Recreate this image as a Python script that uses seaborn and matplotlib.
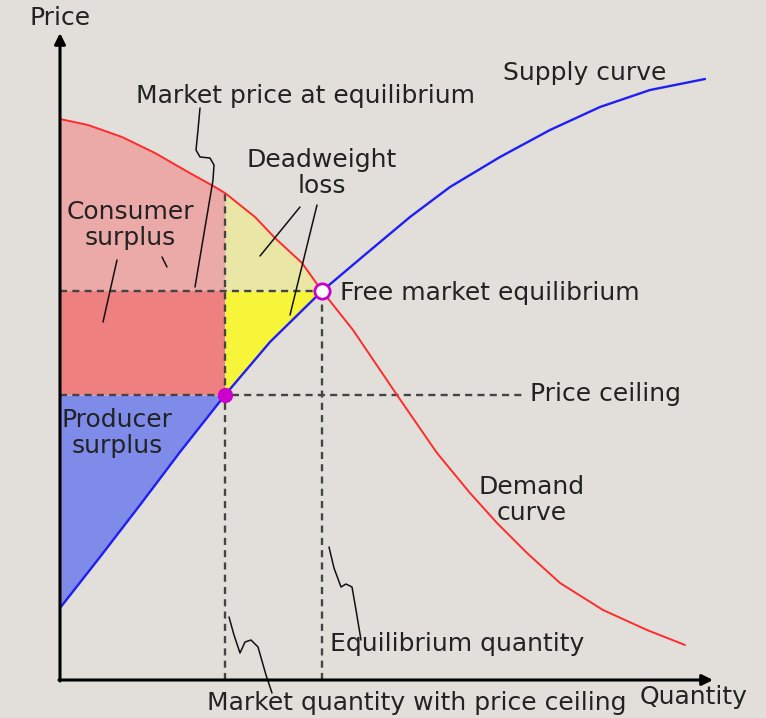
import numpy as np
import pandas as pd
import matplotlib
matplotlib.use("Agg")
import matplotlib.pyplot as plt
import seaborn as sns

# ---------------------------------------------------------------------------
# chart units: quantity to the right, price upward
# ---------------------------------------------------------------------------
demand_q = [0, 28, 62, 95, 128, 155, 165, 195, 215, 242, 262, 293, 337, 377, 410, 437, 467, 500, 543, 587, 625]
demand_p = [561, 555, 543, 527, 508, 493, 487, 463, 442, 417, 389, 350, 285, 227, 187, 157, 127, 97, 70, 50, 35]

supply_q = [0, 40, 80, 120, 165, 210, 262, 307, 350, 390, 440, 490, 540, 590, 645]
supply_p = [72, 123, 175, 228, 285, 338, 389, 427, 463, 493, 523, 550, 573, 590, 601]

eq_q, eq_p = 262, 389        # free market equilibrium
ceil_q, ceil_p = 165, 285    # price ceiling / market quantity with ceiling
ceiling_end = 465

# leader lines from labels
lead_market_price = ([140, 138, 136, 140, 150, 154, 153, 135], [572, 550, 530, 523, 522, 515, 500, 393])
lead_dw1 = ([240, 200], [473, 424])
lead_dw2 = ([257, 230], [475, 365])
lead_cs1 = ([57, 43], [420, 358])
lead_cs2 = ([102, 107], [423, 413])
lead_eq_q = ([269, 274, 281, 286, 292, 296, 301], [133, 112, 93, 96, 93, 70, 40])
lead_mkt_q = ([169, 174, 180, 185, 191, 198, 206, 212], [63, 45, 27, 38, 40, 33, 5, -13])

demand = pd.DataFrame({"q": demand_q, "p": demand_p})
supply = pd.DataFrame({"q": supply_q, "p": supply_p})

sns.set_theme(style="white")
bg = "#e2dfda"
fig = plt.figure(figsize=(7.66, 7.18), dpi=100, facecolor=bg)
ax = fig.add_axes([0, 0, 1, 1])
ax.set_facecolor(bg)
ax.set_xlim(-60, 706)
ax.set_ylim(-38, 680)
ax.axis("off")

dq, dp = np.array(demand_q), np.array(demand_p)
sq, sp = np.array(supply_q), np.array(supply_p)

# surplus areas
m = dq <= ceil_q
ax.fill_between(dq[m], eq_p, dp[m], color="#ebaaa8", lw=0)
m = (dq >= ceil_q) & (dq <= eq_q)
ax.fill_between(dq[m], eq_p, dp[m], color="#e9e6a6", lw=0)
m = (sq >= ceil_q) & (sq <= eq_q)
ax.fill_between(sq[m], sp[m], eq_p, color="#f6f53a", lw=0)
ax.fill_between([0, ceil_q], ceil_p, eq_p, color="#ef8080", lw=0)
m = sq <= ceil_q
ax.fill_between(sq[m], sp[m], ceil_p, color="#7f8be8", lw=0)

# dashed guides
dash = dict(color="#444444", lw=1.7, ls=(0, (3, 2.2)))
ax.plot([0, eq_q], [eq_p, eq_p], **dash)
ax.plot([0, ceiling_end], [ceil_p, ceil_p], **dash)
ax.plot([ceil_q, ceil_q], [0, 488], **dash)
ax.plot([eq_q, eq_q], [0, eq_p], **dash)

# curves
sns.lineplot(data=demand, x="q", y="p", sort=False, color="#ff2b2b", lw=1.4, ax=ax)
sns.lineplot(data=supply, x="q", y="p", sort=False, color="#1f1ff5", lw=1.7, ax=ax)

# leader lines
for xs, ys in [lead_market_price, lead_dw1, lead_dw2, lead_cs1, lead_cs2, lead_eq_q, lead_mkt_q]:
    ax.plot(xs, ys, color="#111111", lw=1.1, solid_capstyle="round")

# axes with arrows
arrow = dict(arrowstyle="-|>", color="black", lw=2.2, mutation_scale=16, shrinkA=0, shrinkB=0)
ax.annotate("", xy=(0, 647), xytext=(0, -1), arrowprops=arrow)
ax.annotate("", xy=(653, 0), xytext=(-1, 0), arrowprops=arrow)

# points
ax.plot(ceil_q, ceil_p, "o", ms=10, color="#cc00cc", mec="#cc00cc", zorder=5)
ax.plot(eq_q, eq_p, "o", ms=11, mfc="white", mec="#cc00cc", mew=2, zorder=5)

# texts
fs = 18
tc = "#222222"
ax.text(0, 662, "Price", ha="center", va="center", fontsize=fs, color=tc)
ax.text(525, 607, "Supply curve", ha="center", va="center", fontsize=fs, color=tc)
ax.text(245, 584, "Market price at equilibrium", ha="center", va="center", fontsize=fs, color=tc)
ax.text(262, 507, "Deadweight\nloss", ha="center", va="center", fontsize=fs, color=tc, linespacing=1.12)
ax.text(70, 455, "Consumer\nsurplus", ha="center", va="center", fontsize=fs, color=tc, linespacing=1.12)
ax.text(280, 387, "Free market equilibrium", ha="left", va="center", fontsize=fs, color=tc)
ax.text(470, 286, "Price ceiling", ha="left", va="center", fontsize=fs, color=tc)
ax.text(57, 247, "Producer\nsurplus", ha="center", va="center", fontsize=fs, color=tc, linespacing=1.12)
ax.text(472, 180, "Demand\ncurve", ha="center", va="center", fontsize=fs, color=tc, linespacing=1.12)
ax.text(270, 36, "Equilibrium quantity", ha="left", va="center", fontsize=fs, color=tc)
ax.text(147, -23, "Market quantity with price ceiling", ha="left", va="center", fontsize=fs, color=tc)
ax.text(580, -17, "Quantity", ha="left", va="center", fontsize=fs, color=tc)

fig.savefig("out.png", dpi=100, facecolor=bg)
